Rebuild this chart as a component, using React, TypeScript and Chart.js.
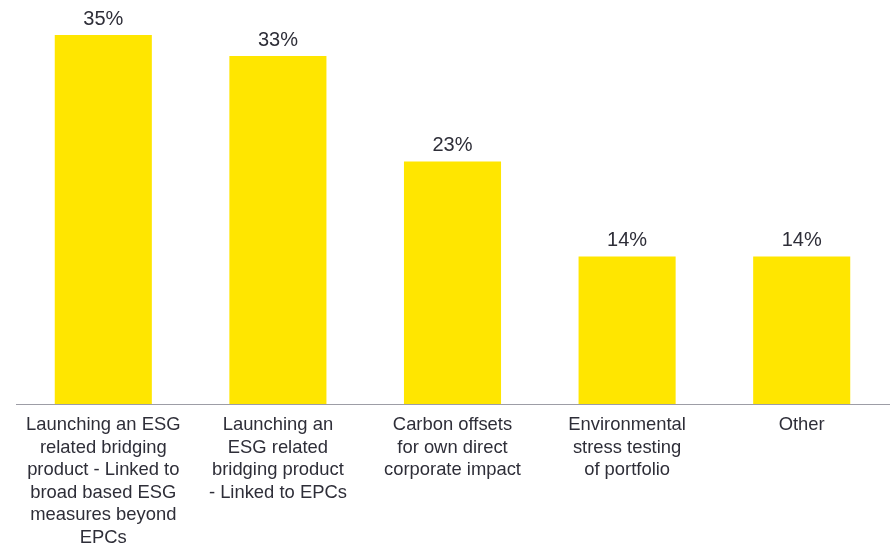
import React, { useEffect, useRef } from "react";
import { Chart, registerables } from "chart.js";

Chart.register(...registerables);

const categories: string[][] = [
  ["Launching an ESG", "related bridging", "product - Linked to", "broad based ESG", "measures beyond", "EPCs"],
  ["Launching an", "ESG related", "bridging product", "- Linked to EPCs"],
  ["Carbon offsets", "for own direct", "corporate impact"],
  ["Environmental", "stress testing", "of portfolio"],
  ["Other"],
];
const values: number[] = [35, 33, 23, 14, 14];
const valueLabels: string[] = ["35%", "33%", "23%", "14%", "14%"];

const YELLOW = "#FFE600";
const TEXT = "#2E2E38";
const FONT = "'Liberation Sans', Arial, sans-serif";

const valueLabelPlugin = {
  id: "valueLabels",
  afterDatasetsDraw(chart: any) {
    const ctx = chart.ctx;
    const meta = chart.getDatasetMeta(0);
    ctx.save();
    ctx.font = `20px ${FONT}`;
    ctx.fillStyle = TEXT;
    ctx.textAlign = "center";
    ctx.textBaseline = "alphabetic";
    meta.data.forEach((bar: any, i: number) => {
      ctx.fillText(valueLabels[i], bar.x, bar.y - 10.5);
    });
    ctx.restore();
  },
};

export default function App() {
  const canvasRef = useRef<HTMLCanvasElement | null>(null);

  useEffect(() => {
    if (!canvasRef.current) return;
    const chart = new Chart(canvasRef.current, {
      type: "bar",
      data: {
        labels: categories,
        datasets: [
          {
            data: values,
            backgroundColor: YELLOW,
            borderWidth: 0,
            categoryPercentage: 1,
            barPercentage: 0.556,
          },
        ],
      },
      options: {
        animation: false,
        responsive: false,
        maintainAspectRatio: false,
        layout: { padding: { left: 16, right: 3, top: 3.4, bottom: 0 } },
        plugins: {
          legend: { display: false },
          tooltip: { enabled: false },
        },
        scales: {
          x: {
            grid: { display: false, drawTicks: false },
            border: { display: true, color: "#9d9da6", width: 1 },
            ticks: {
              color: TEXT,
              font: { family: FONT, size: 18.4, lineHeight: 1.22 },
              padding: 10,
              maxRotation: 0,
              autoSkip: false,
            },
            afterFit: (scale: any) => {
              scale.height = 141;
            },
          },
          y: {
            display: false,
            min: 0,
            max: 38,
          },
        },
      },
      plugins: [valueLabelPlugin],
    });
    return () => chart.destroy();
  }, []);

  return (
    <div style={{ position: "fixed", left: 0, top: 0, width: 892, height: 545, background: "#fff" }}>
      <canvas ref={canvasRef} width={892} height={545} style={{ width: 892, height: 545, display: "block" }} />
    </div>
  );
}
